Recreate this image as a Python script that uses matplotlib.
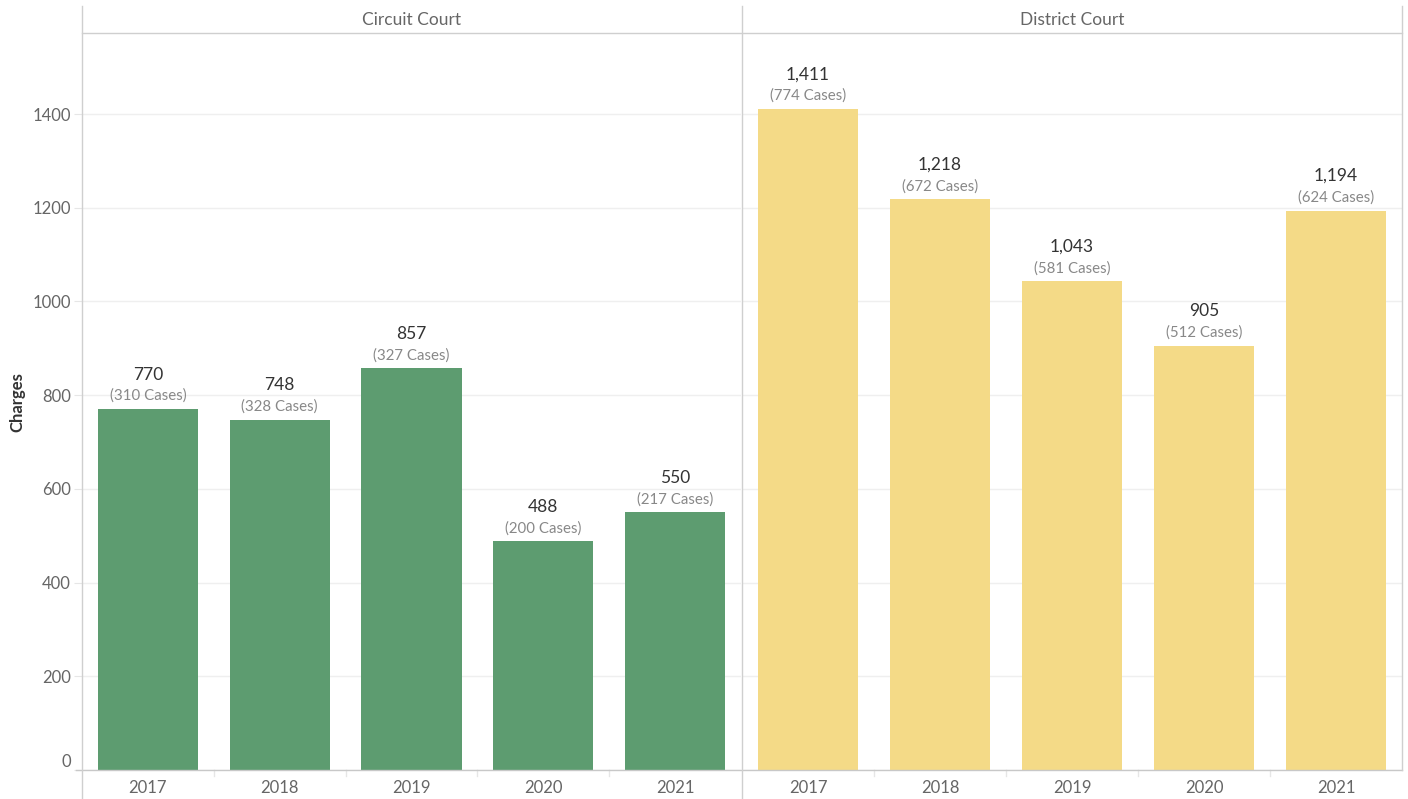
import matplotlib
matplotlib.use("Agg")
import matplotlib.pyplot as plt
from matplotlib.lines import Line2D

plt.rcParams['font.family'] = ['Lato', 'DejaVu Sans']

years = ["2017", "2018", "2019", "2020", "2021"]
panels = ["Circuit Court", "District Court"]
circuit_charges = [770, 748, 857, 488, 550]
circuit_cases = [310, 328, 327, 200, 217]
district_charges = [1411, 1218, 1043, 905, 1194]
district_cases = [774, 672, 581, 512, 624]
yticks = [0, 200, 400, 600, 800, 1000, 1200, 1400]

colors = ["#5d9c70", "#f4da87"]

W, H = 1408, 799
fig = plt.figure(figsize=(W / 100, H / 100), dpi=100)

def fx(px):
    return px / W

def fy(py):
    return 1 - py / H

top_px, base_px = 33, 770
panel_edges = [(82, 741), (742, 1402)]
ymax = 1573

data = [(circuit_charges, circuit_cases), (district_charges, district_cases)]
axes = []
for i, ((x0, x1), (charges, cases)) in enumerate(zip(panel_edges, data)):
    ax = fig.add_axes([fx(x0), fy(base_px), fx(x1 - x0), (base_px - top_px) / H])
    axes.append(ax)
    xs = list(range(len(years)))
    ax.bar(xs, charges, width=0.76, color=colors[i], zorder=2)
    ax.set_xlim(-0.5, len(years) - 0.5)
    ax.set_ylim(0, ymax)
    for s in ax.spines.values():
        s.set_visible(False)
    ax.set_yticks(yticks)
    ax.yaxis.grid(True, color="#efefef", linewidth=1, zorder=0)
    ax.set_axisbelow(True)
    ax.set_xticks(xs)
    ax.set_xticklabels(years, fontsize=12, color="#666666")
    ax.tick_params(axis='x', length=0, pad=7)
    if i == 0:
        ax.set_yticklabels([str(t) for t in yticks], fontsize=12, color="#666666")
        ax.tick_params(axis='y', length=6, color="#e6e6e6", pad=2)
        for lab, t in zip(ax.get_yticklabels(), yticks):
            if t == 0:
                lab.set_va('bottom')
    else:
        ax.set_yticklabels([])
        ax.tick_params(axis='y', length=0)
    for x, c, n in zip(xs, charges, cases):
        ax.annotate(f"{c:,}", (x, c), xytext=(0, 25), textcoords="offset points",
                    ha="center", va="center", fontsize=12.5, color="#333333")
        ax.annotate(f"({n} Cases)", (x, c), xytext=(0, 9.5), textcoords="offset points",
                    ha="center", va="center", fontsize=10.8, color="#888888")
    for b in range(1, len(years)):
        ax.plot([b - 0.5, b - 0.5], [0, -0.008 * ymax], color="#e6e6e6", lw=1,
                clip_on=False, transform=ax.transData)
    fig.text(fx((x0 + x1) / 2), fy(20), panels[i], ha="center", va="center",
             fontsize=12.5, color="#666666")

fig.text(fx(17), fy(402), "Charges", rotation=90, ha="center", va="center",
         fontsize=12, color="#333333", fontweight="bold")

line_color = "#cfcfcf"
def hline(y, xa, xb, c=line_color, lw=1.0):
    fig.add_artist(Line2D([fx(xa), fx(xb)], [fy(y), fy(y)], color=c, lw=lw))

def vline(x, ya, yb, c=line_color, lw=1.0):
    fig.add_artist(Line2D([fx(x), fx(x)], [fy(ya), fy(yb)], color=c, lw=lw))

hline(33, 82, 1402)
hline(770, 76, 1402, c="#c8c8c8")
vline(82, 6, 799)
vline(741.5, 6, 799)
vline(1402, 6, 770)

fig.savefig("out.png", dpi=100, facecolor="white")
